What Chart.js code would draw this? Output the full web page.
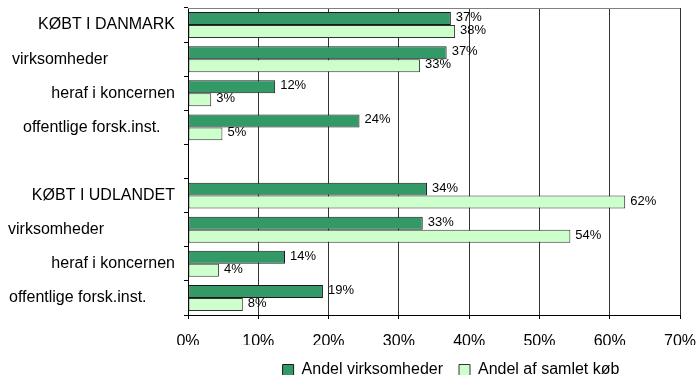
<!DOCTYPE html>
<html>
<head>
<meta charset="utf-8">
<script src="https://cdn.jsdelivr.net/npm/chart.js@4/dist/chart.umd.min.js"></script>
<style>
  html, body { margin: 0; padding: 0; background: #fff; }
  #wrap { width: 698px; height: 375px; position: relative; }
</style>
</head>
<body>
<div id="wrap"><canvas id="chart"></canvas></div>
<script>
// Data
const categories = ['KØBT I DANMARK', 'virksomheder', 'heraf i koncernen', 'offentlige forsk.inst.', '',
  'KØBT I UDLANDET', 'virksomheder', 'heraf i koncernen', 'offentlige forsk.inst.'];
const seriesNames = ['Andel virksomheder', 'Andel af samlet køb'];
const andelVirksomheder = [37.4, 36.8, 12.4, 24.4, null, 34.0, 33.4, 13.8, 19.2];
const andelSamletKob = [38.0, 33.0, 3.3, 4.9, null, 62.2, 54.4, 4.4, 7.8];
const xTickValues = [0, 10, 20, 30, 40, 50, 60, 70];

// Label placement of the category texts (layout only)
const labelPlacement = [['right', 175], ['left', 12], ['right', 175], ['left', 23], null,
  ['right', 175], ['left', 8], ['right', 175], ['left', 9]];

const FONT = '"Liberation Sans", Arial, sans-serif';

const customDraw = {
  id: 'customDraw',
  afterLayout(chart) {
    // legend sits right of centre in the original
    chart.legend.left += 111;
    chart.legend.right += 111;
    chart.legend.top += 1;
    chart.legend.bottom += 1;
  },
  afterDraw(chart) {
    const ctx = chart.ctx;
    const area = chart.chartArea;
    const yScale = chart.scales.y;
    ctx.save();
    // top border of plot area
    ctx.strokeStyle = '#808080';
    ctx.lineWidth = 1;
    ctx.beginPath();
    ctx.moveTo(area.left, Math.round(area.top) + 0.5);
    ctx.lineTo(area.right, Math.round(area.top) + 0.5);
    ctx.stroke();

    // category labels
    ctx.fillStyle = '#000';
    ctx.font = '16px ' + FONT;
    ctx.textBaseline = 'middle';
    categories.forEach((c, i) => {
      const p = labelPlacement[i];
      if (!p || !c) return;
      ctx.textAlign = p[0];
      ctx.fillText(c, p[1], yScale.getPixelForValue(i));
    });

    // value labels
    ctx.font = '13px ' + FONT;
    ctx.textAlign = 'left';
    chart.data.datasets.forEach((ds, di) => {
      const meta = chart.getDatasetMeta(di);
      meta.data.forEach((el, i) => {
        const v = ds.data[i];
        if (v == null) return;
        ctx.fillText(Math.round(v) + '%', el.x + 5, el.y - 1);
      });
    });
    ctx.restore();
  }
};

new Chart(document.getElementById('chart'), {
  type: 'bar',
  data: {
    labels: categories,
    datasets: [{
      label: seriesNames[0],
      data: andelVirksomheder,
      backgroundColor: '#339966',
      borderColor: '#1a1a1a',
      borderWidth: 1,
      borderSkipped: false
    }, {
      label: seriesNames[1],
      data: andelSamletKob,
      backgroundColor: '#ccffcc',
      borderColor: '#333333',
      borderWidth: 1,
      borderSkipped: false
    }]
  },
  options: {
    indexAxis: 'y',
    responsive: true,
    maintainAspectRatio: false,
    animation: false,
    datasets: {
      bar: { categoryPercentage: 0.76, barPercentage: 1.0 }
    },
    layout: { padding: { left: 0, right: 18, top: 8, bottom: 0 } },
    plugins: {
      tooltip: { enabled: false },
      legend: {
        position: 'bottom',
        maxHeight: 30,
        labels: {
          boxWidth: 11,
          boxHeight: 11,
          padding: 16,
          color: '#000',
          font: { family: FONT, size: 16 }
        }
      }
    },
    scales: {
      x: {
        min: 0,
        max: 70,
        afterBuildTicks(scale) {
          scale.ticks = xTickValues.map(v => ({ value: v }));
        },
        afterFit(scale) {
          scale.height = 30;
          scale.paddingLeft = 0;
          scale.paddingRight = 0;
        },
        ticks: {
          color: '#000',
          padding: 13,
          maxRotation: 0,
          font: { family: FONT, size: 16 },
          callback: v => v + '%'
        },
        grid: { color: '#333', lineWidth: 1, drawTicks: true, tickLength: 4, tickColor: '#000' },
        border: { display: true, color: '#000' }
      },
      y: {
        afterFit(scale) { scale.width = 188; },
        ticks: { display: false },
        grid: { display: true, drawOnChartArea: false, drawTicks: true, tickLength: 4, offset: true, color: '#000' },
        border: { display: true, color: '#000' }
      }
    }
  },
  plugins: [customDraw]
});
</script>
</body>
</html>
